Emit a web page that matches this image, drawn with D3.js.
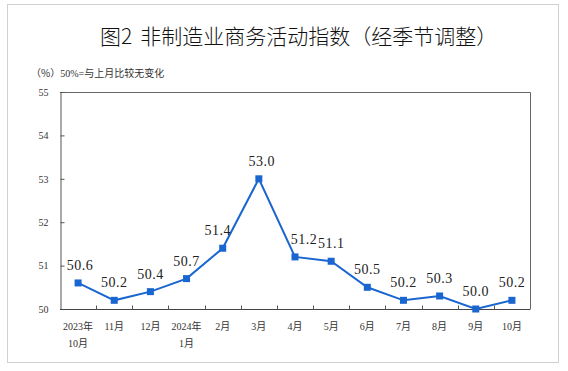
<!DOCTYPE html>
<html>
<head>
<meta charset="utf-8">
<script src="https://cdn.jsdelivr.net/npm/d3@7"></script>
<style>
  body { margin: 0; background: #fff; }
</style>
</head>
<body>
<div id="chart"></div>
<script>
// chart values
var categories = ["2023年\n10月", "11月", "12月", "2024年\n1月", "2月", "3月", "4月", "5月", "6月", "7月", "8月", "9月", "10月"];
var values = [50.6, 50.2, 50.4, 50.7, 51.4, 53.0, 51.2, 51.1, 50.5, 50.2, 50.3, 50.0, 50.2];
var yTicks = [50, 51, 52, 53, 54, 55];

var width = 568, height = 371;
var margin = { left: 60, right: 38, top: 92, bottom: 62 };
var serif = "'Liberation Serif', 'Times New Roman', serif";
var cjk = "'Noto Sans CJK SC', sans-serif";
var blue = "#1a66d0";

var svg = d3.select( "#chart" ).append( "svg" )
  .attr( "width", width ).attr( "height", height );

// outer frame
svg.append( "rect" )
  .attr( "x", 7.5 ).attr( "y", 4.5 )
  .attr( "width", 551 ).attr( "height", 358 )
  .attr( "fill", "none" ).attr( "stroke", "#d0d0d0" );

var title = svg.append( "text" )
  .attr( "x", 100 ).attr( "y", 44 )
  .style( "font-family", cjk ).style( "font-size", "21px" )
  .style( "font-weight", 300 )
  .attr( "fill", "#111" );
title.append( "tspan" ).text( "图2" );
title.append( "tspan" ).attr( "dx", 8 ).text( "非制造业商务活动指数（经季节调整）" );

var sub = svg.append( "text" )
  .attr( "x", 31 ).attr( "y", 77 )
  .style( "font-size", "10px" ).attr( "fill", "#333" );
sub.append( "tspan" ).style( "font-family", cjk ).text( "（%）" );
sub.append( "tspan" ).style( "font-family", serif ).text( "50%=" );
sub.append( "tspan" ).style( "font-family", cjk ).text( "与上月比较无变化" );

var x = d3.scaleBand()
  .domain( d3.range( categories.length ) )
  .range( [ margin.left, width - margin.right ] );
var y = d3.scaleLinear()
  .domain( [ 50, 55 ] )
  .range( [ height - margin.bottom, margin.top ] );

var g = svg.append( "g" );

// plot frame (top + right)
g.append( "path" )
  .attr( "d", "M" + x.range()[0] + "," + (y(55) + 0.5) + "H" + (x.range()[1] + 0.5) + "V" + y(50) )
  .attr( "fill", "none" ).attr( "stroke", "#666" );

// y axis
var yAxis = g.append( "g" )
  .attr( "transform", "translate(" + (margin.left + 0.5) + ",0)" )
  .call( d3.axisLeft( y ).tickValues( yTicks ).tickSize( -4 ).tickPadding( 12 ).tickFormat( d3.format( "d" ) ) );
yAxis.select( ".domain" ).attr( "stroke", "#555" );
yAxis.selectAll( ".tick line" ).attr( "stroke", "#555" );
yAxis.selectAll( "text" )
  .style( "font-family", serif ).style( "font-size", "10px" ).attr( "fill", "#333" );

// x axis: ticks on category boundaries
var xAxis = g.append( "g" )
  .attr( "transform", "translate(0," + (y(50) + 0.5) + ")" );
xAxis.append( "line" )
  .attr( "x1", x.range()[0] ).attr( "x2", x.range()[1] + 0.5 )
  .attr( "stroke", "#444" );
xAxis.selectAll( "line.tk" )
  .data( d3.range( 1, categories.length ) )
  .enter().append( "line" ).attr( "class", "tk" )
  .attr( "x1", function( d ) { return Math.round( x( d ) ) + 0.5; } )
  .attr( "x2", function( d ) { return Math.round( x( d ) ) + 0.5; } )
  .attr( "y1", 0 ).attr( "y2", -4 )
  .attr( "stroke", "#555" );

var lbl = xAxis.selectAll( "text.cat" )
  .data( categories )
  .enter().append( "text" ).attr( "class", "cat" )
  .attr( "text-anchor", "middle" )
  .attr( "fill", "#333" )
  .style( "font-size", "10px" );
lbl.each( function( d, i ) {
  var t = d3.select( this );
  d.split( "\n" ).forEach( function( line, k ) {
    var m = line.match( /^(\d+)(.*)$/ );
    var ts = t.append( "tspan" )
      .attr( "x", x( i ) + x.bandwidth() / 2 )
      .attr( "y", 20 + k * 17 );
    ts.append( "tspan" ).style( "font-family", serif ).text( m[1] );
    ts.append( "tspan" ).style( "font-family", cjk ).text( m[2] );
  } );
} );

// line + markers
var cx = function( d, i ) { return x( i ) + x.bandwidth() / 2; };
var line = d3.line()
  .x( cx )
  .y( function( d ) { return y( d ); } );

g.append( "path" )
  .datum( values )
  .attr( "d", line )
  .attr( "fill", "none" )
  .attr( "stroke", blue ).attr( "stroke-width", 2 );

g.selectAll( "rect.pt" )
  .data( values )
  .enter().append( "rect" ).attr( "class", "pt" )
  .attr( "x", function( d, i ) { return cx( d, i ) - 3.5; } )
  .attr( "y", function( d ) { return y( d ) - 3.5; } )
  .attr( "width", 7 ).attr( "height", 7 )
  .attr( "fill", blue );

// label nudges so they clear the line (px)
var labelDx = [2, 0, 0, 0, -5, 3, 9, 0, 0, 0, 0, 0, 0];
g.selectAll( "text.val" )
  .data( values )
  .enter().append( "text" ).attr( "class", "val" )
  .attr( "x", function( d, i ) { return cx( d, i ) + labelDx[i]; } )
  .attr( "y", function( d ) { return y( d ) - 13; } )
  .attr( "text-anchor", "middle" )
  .style( "font-family", serif ).style( "font-size", "14px" )
  .style( "letter-spacing", "0.5px" )
  .attr( "fill", "#222" )
  .text( function( d ) { return d.toFixed( 1 ); } );
</script>
</body>
</html>
